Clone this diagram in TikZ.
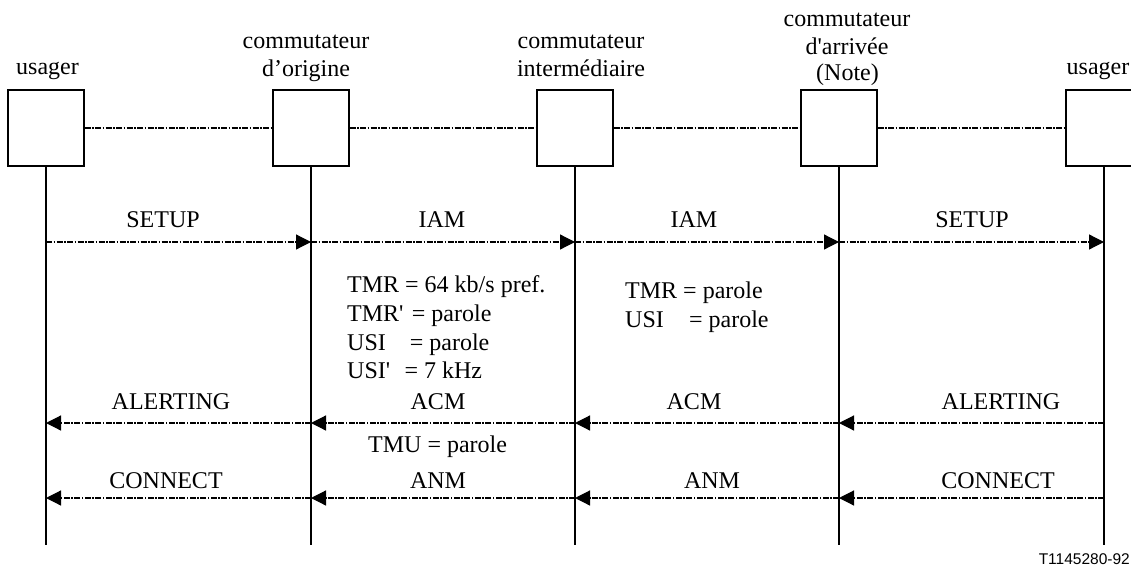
\documentclass[tikz,border=0pt]{standalone}
\usepackage{fontspec}
\newfontfamily\plainserif{Liberation Serif}
\newfontfamily\footfont{Liberation Sans}
\usetikzlibrary{arrows.meta}
\tikzset{
  ent/.style={draw, line width=1.2pt, minimum size=76pt, inner sep=0pt, fill=white},
  life/.style={line width=2pt},
  dd/.style={line width=1.2pt, dash pattern=on 6pt off 1.5pt on 1.5pt off 1.5pt},
  msg/.style={dd, -{Triangle[length=15pt,width=15pt]}},
  lbl/.style={inner sep=0pt, anchor=base, font=\plainserif\fontsize{24}{28}\selectfont},
  lblw/.style={lbl, anchor=base west},
}
\begin{document}
\begin{tikzpicture}[x=1pt,y=-1pt]
\useasboundingbox (0,0) rectangle (1131,567);
\clip (0,0) rectangle (1131,567);
% entities
\node[ent] (b1) at (46,128) {};
\node[ent] (b2) at (311,128) {};
\node[ent] (b3) at (575,128) {};
\node[ent] (b4) at (839,128) {};
\node[ent] (b5) at (1104,128) {};
\draw[dd] (b1.east) -- (b2.west);
\draw[dd] (b2.east) -- (b3.west);
\draw[dd] (b3.east) -- (b4.west);
\draw[dd] (b4.east) -- (b5.west);
% lifelines
\coordinate (e1) at (46,545);
\coordinate (e2) at (311,545);
\coordinate (e3) at (575,545);
\coordinate (e4) at (839,545);
\coordinate (e5) at (1104,545);
\draw[life] (b1.south) -- (e1);
\draw[life] (b2.south) -- (e2);
\draw[life] (b3.south) -- (e3);
\draw[life] (b4.south) -- (e4);
\draw[life] (b5.south) -- (e5);
% headers
\node[lbl] (h1) at (47.5,75) {usager};
\node[lbl] (h2a) at (306,49) {commutateur};
\node[lbl] (h2b) at (306,77) {d’origine};
\node[lbl] (h3a) at (581,49) {commutateur};
\node[lbl] (h3b) at (581,77) {intermédiaire};
\node[lbl] (h4a) at (847,27) {commutateur};
\node[lbl] (h4b) at (847,55) {d'arrivée};
\node[lbl] (h4c) at (847.5,81) {(Note)};
\node[lbl] (h5) at (1098,75) {usager};
% message rows
\coordinate (r1) at (0,242);
\coordinate (r2) at (0,423);
\coordinate (r3) at (0,498);
\draw[msg] (b1|-r1) -- (b2|-r1);
\draw[msg] (b2|-r1) -- (b3|-r1);
\draw[msg] (b3|-r1) -- (b4|-r1);
\draw[msg] (b4|-r1) -- (b5|-r1);
\draw[msg] (b2|-r2) -- (b1|-r2);
\draw[msg] (b3|-r2) -- (b2|-r2);
\draw[msg] (b4|-r2) -- (b3|-r2);
\draw[msg] (b5|-r2) -- (b4|-r2);
\draw[msg] (b2|-r3) -- (b1|-r3);
\draw[msg] (b3|-r3) -- (b2|-r3);
\draw[msg] (b4|-r3) -- (b3|-r3);
\draw[msg] (b5|-r3) -- (b4|-r3);
% message labels
\node[lbl] (m1) at (163,227) {SETUP};
\node[lbl] (m2) at (442,227) {IAM};
\node[lbl] (m3) at (694,227) {IAM};
\node[lbl] (m4) at (972,227) {SETUP};
\node[lbl] (m5) at (171,409) {ALERTING};
\node[lbl] (m6) at (438,409) {ACM};
\node[lbl] (m7) at (694,409) {ACM};
\node[lbl] (m8) at (1001,409) {ALERTING};
\node[lbl] (m9) at (166,488) {CONNECT};
\node[lbl] (m10) at (438,488) {ANM};
\node[lbl] (m11) at (712,488) {ANM};
\node[lbl] (m12) at (998,488) {CONNECT};
% parameter notes
\node[lblw] (p1) at (347,292) {TMR = 64 kb/s pref.};
\node[lblw] (p2) at (347,321) {TMR'\hspace{0.1em} = parole};
\node[lblw] (p3) at (347,350) {USI\hspace{0.75em} = parole};
\node[lblw] (p4) at (347,378) {USI'\hspace{0.35em} = 7 kHz};
\node[lblw] (p5) at (368,452) {TMU = parole};
\node[lblw] (q1) at (625,298) {TMR = parole};
\node[lblw] (q2) at (625,327) {USI\hspace{0.8em} = parole};
% footer
\node[inner sep=0pt, anchor=base east, font=\footfont\fontsize{15.5}{19}\selectfont] (ft) at (1130,564) {T1145280-92};
\end{tikzpicture}
\end{document}
